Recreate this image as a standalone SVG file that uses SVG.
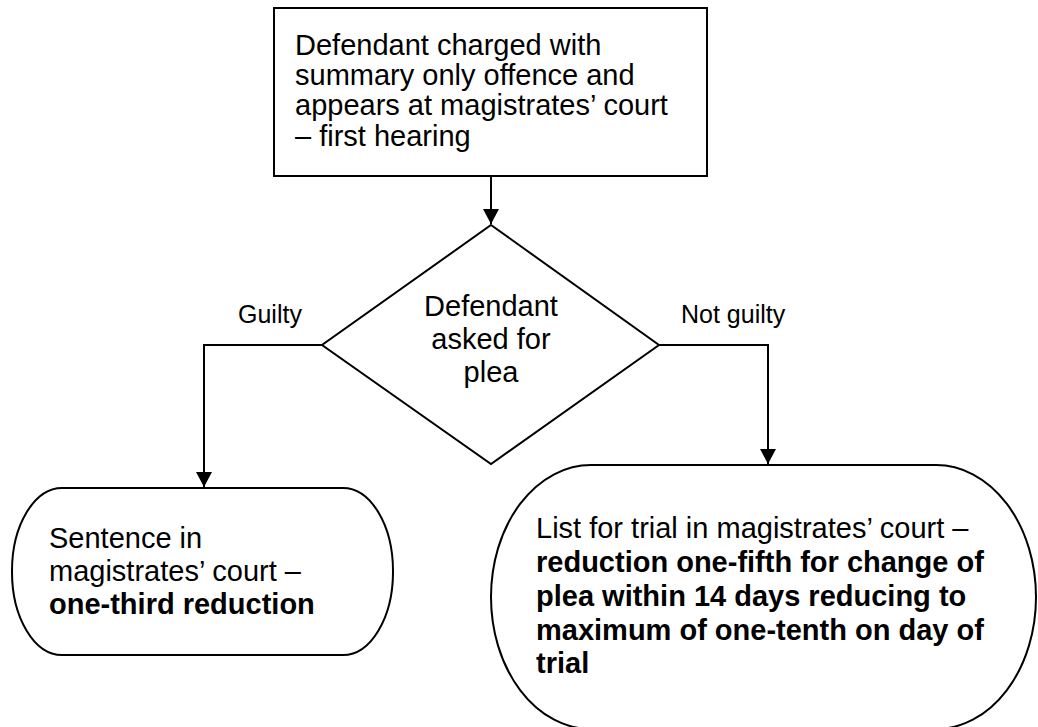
<svg xmlns="http://www.w3.org/2000/svg" width="1038" height="727" viewBox="0 0 1038 727">
<style>
.shape{fill:#fff;stroke:#000;stroke-width:2}
.conn{fill:none;stroke:#000;stroke-width:2}
text{font-family:"Liberation Sans",Arial,sans-serif;font-size:29px;fill:#000}
.lbl{font-size:25px}
.b{font-weight:bold}
</style>
<defs>
<marker id="arr" markerWidth="15" markerHeight="16" refX="15" refY="8" orient="auto" markerUnits="userSpaceOnUse">
<path d="M0,0 L15,8 L0,16 Z" fill="#000"/>
</marker>
</defs>
<rect width="1038" height="727" fill="#fff"/>
<g id="connectors">
<path class="conn" d="M491,176 L491,224" marker-end="url(#arr)"/>
<path class="conn" d="M322,345 L204,345 L204,487" marker-end="url(#arr)"/>
<path class="conn" d="M659,345 L768,345 L768,464" marker-end="url(#arr)"/>
<text class="lbl" x="238" y="323">Guilty</text>
<text class="lbl" x="681" y="323">Not guilty</text>
</g>
<g id="start">
<rect class="shape" x="274" y="8" width="433" height="168"/>
<text x="295" y="55">Defendant charged with</text>
<text x="295" y="85">summary only offence and</text>
<text x="295" y="115">appears at magistrates’ court</text>
<text x="295" y="146">– first hearing</text>
</g>
<g id="decision">
<path class="shape" d="M491,225 L659,345 L491,464 L322,345 Z"/>
<text x="491" y="316" text-anchor="middle">Defendant</text>
<text x="491" y="349" text-anchor="middle">asked for</text>
<text x="491" y="382" text-anchor="middle">plea</text>
</g>
<g id="guilty">
<rect class="shape" x="12" y="488" width="381" height="167" rx="50" ry="83"/>
<text x="49" y="548">Sentence in</text>
<text x="49" y="581">magistrates’ court –</text>
<text x="49" y="614" class="b">one-third reduction</text>
</g>
<g id="notguilty">
<rect class="shape" x="491" y="465" width="545" height="264" rx="100" ry="132"/>
<text x="536" y="538">List for trial in magistrates’ court –</text>
<text x="536" y="572" class="b">reduction one-fifth for change of</text>
<text x="536" y="606" class="b">plea within 14 days reducing to</text>
<text x="536" y="640" class="b">maximum of one-tenth on day of</text>
<text x="536" y="673" class="b">trial</text>
</g>
</svg>
